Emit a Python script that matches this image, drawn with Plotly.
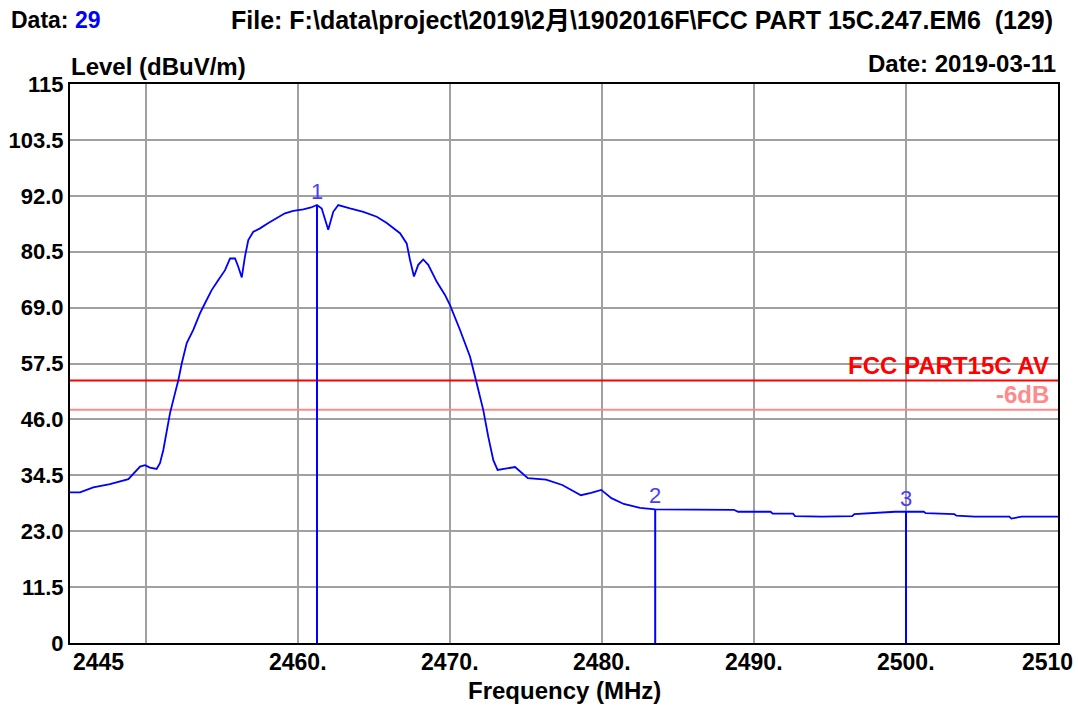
import plotly.graph_objects as go

# ---------------- data ----------------
freq = [2445.00, 2445.66, 2446.53, 2447.63, 2448.84, 2449.61, 2449.93, 2450.26, 2450.70, 2450.92,
        2451.14, 2451.36, 2451.58, 2451.91, 2452.13, 2452.35, 2452.68, 2453.11, 2453.55, 2453.88,
        2454.32, 2454.76, 2455.20, 2455.53, 2455.86, 2456.07, 2456.30, 2456.51, 2456.73, 2457.06,
        2457.50, 2458.05, 2458.60, 2459.14, 2459.69, 2460.35, 2460.86, 2461.25, 2461.56, 2461.99,
        2462.32, 2462.65, 2463.42, 2464.30, 2465.18, 2465.84, 2466.71, 2467.15, 2467.37, 2467.63,
        2467.91, 2468.24, 2468.57, 2469.13, 2469.67, 2470.00, 2470.66, 2471.32, 2471.76, 2472.19,
        2472.52, 2472.85, 2473.13, 2473.73, 2474.28, 2475.12, 2476.32, 2477.39, 2478.61, 2479.28,
        2479.95, 2480.62, 2481.43, 2482.50, 2483.50, 2488.68, 2488.95, 2491.09, 2491.23, 2492.57,
        2492.70, 2494.45, 2496.46, 2496.60, 2497.81, 2499.28, 2501.17, 2501.30, 2503.18, 2503.32,
        2504.52, 2506.80, 2506.93, 2507.61, 2510.00]
level = [31.0, 31.0, 32.0, 32.7, 33.7, 36.3, 36.6, 36.1, 35.8, 37.0,
         39.7, 43.8, 47.3, 51.4, 54.1, 57.5, 61.7, 64.4, 67.8, 69.9,
         72.6, 74.7, 76.7, 79.1, 79.1, 77.4, 75.2, 79.5, 82.9, 84.6,
         85.3, 86.4, 87.4, 88.4, 88.9, 89.2, 89.6, 90.1, 89.4, 85.0,
         88.7, 90.1, 89.4, 88.7, 87.7, 86.4, 84.3, 82.2, 78.8, 75.4,
         77.8, 78.9, 77.8, 74.3, 71.6, 69.5, 64.4, 58.9, 53.4, 47.9,
         42.4, 37.6, 35.6, 35.9, 36.2, 33.9, 33.6, 32.5, 30.4, 30.9,
         31.5, 29.8, 28.6, 27.8, 27.5, 27.4, 27.0, 27.0, 26.6, 26.6,
         26.1, 26.0, 26.1, 26.5, 26.7, 27.0, 27.0, 26.7, 26.5, 26.2,
         26.0, 26.0, 25.6, 26.0, 26.0]

marker_freq = [2461.25, 2483.50, 2500.00]
marker_level = [90.1, 27.5, 27.0]
marker_labels = ["1", "2", "3"]

limit_av = 54.0
limit_margin = 48.0
limit_av_label = "FCC PART15C AV"
limit_margin_label = "-6dB"

x_range = [2445, 2510]
x_grid = [2445, 2450, 2460, 2470, 2480, 2490, 2500, 2510]
x_tick_vals = [2445, 2460, 2470, 2480, 2490, 2500, 2510]
x_tick_text = ["2445", "2460.", "2470.", "2480.", "2490.", "2500.", "2510"]
y_range = [0, 115]
y_tick_vals = [0, 11.5, 23, 34.5, 46, 57.5, 69, 80.5, 92, 103.5, 115]
y_tick_text = ["0", "11.5", "23.0", "34.5", "46.0", "57.5", "69.0", "80.5", "92.0", "103.5", "115"]

data_no = "29"
file_text = "File: F:\\data\\project\\2019\\2月\\1902016F\\FCC PART 15C.247.EM6  (129)"
date_text = "Date: 2019-03-11"
y_title = "Level (dBuV/m)"
x_title = "Frequency (MHz)"

# ---------------- figure ----------------
FONT = "Liberation Sans, Arial, Noto Sans CJK SC, sans-serif"
W, H = 1078, 706
L, R, T, B = 70, 20, 84, 63
pw, ph = W - L - R, H - T - B


def px(xp):
    return (xp - L) / pw


def py(yp):
    return (H - B - yp) / ph


def bold(size, color="#000000"):
    return dict(family=FONT, size=size, color=color, weight="bold")


fig = go.Figure()

# limit lines
fig.add_trace(go.Scatter(x=x_range, y=[limit_av, limit_av], mode="lines",
                         line=dict(color="#ff0000", width=2), hoverinfo="skip"))
fig.add_trace(go.Scatter(x=x_range, y=[limit_margin, limit_margin], mode="lines",
                         line=dict(color="#ff8a8a", width=2), hoverinfo="skip"))

# marker vertical lines
for f, lv in zip(marker_freq, marker_level):
    fig.add_trace(go.Scatter(x=[f, f], y=[0, lv], mode="lines",
                             line=dict(color="#0000ff", width=2), hoverinfo="skip"))

# trace
fig.add_trace(go.Scatter(x=freq, y=level, mode="lines",
                         line=dict(color="#0000ff", width=1.8)))

annotations = []

# x tick labels
for v, t in zip(x_tick_vals, x_tick_text):
    if v == x_range[0]:
        anchor, xs = "left", 1
    elif v == x_range[1]:
        anchor, xs = "right", 17
    else:
        anchor, xs = "center", 0
    annotations.append(dict(x=v, xref="x", y=py(662), yref="paper", text=t,
                            showarrow=False, xanchor=anchor, yanchor="middle", xshift=xs,
                            font=bold(23)))

# marker labels
for f, lv, t in zip(marker_freq, marker_level, marker_labels):
    annotations.append(dict(x=f, xref="x", y=lv, yref="y", text=t, showarrow=False,
                            xanchor="center", yanchor="bottom", yshift=-1,
                            font=dict(family=FONT, size=22, color="#4a3cff")))

# limit labels
annotations.append(dict(x=px(1051), xref="paper", y=limit_av, yref="y", text=limit_av_label,
                        showarrow=False, xanchor="right", yanchor="bottom", yshift=0,
                        font=bold(24, "#ff0000")))
annotations.append(dict(x=px(1051), xref="paper", y=limit_margin, yref="y", text=limit_margin_label,
                        showarrow=False, xanchor="right", yanchor="bottom", yshift=0,
                        font=bold(24, "#ff8a8a")))

# header texts
annotations.append(dict(x=px(9), xref="paper", y=py(20), yref="paper",
                        text="Data: <span style='color:#0000ff'>" + data_no + "</span>",
                        showarrow=False, xanchor="left", yanchor="middle", font=bold(23)))
annotations.append(dict(x=px(642), xref="paper", y=py(20), yref="paper", text=file_text,
                        showarrow=False, xanchor="center", yanchor="middle", font=bold(25)))
annotations.append(dict(x=px(69), xref="paper", y=py(67), yref="paper", text=y_title,
                        showarrow=False, xanchor="left", yanchor="middle", font=bold(24)))
annotations.append(dict(x=px(1058), xref="paper", y=py(64), yref="paper", text=date_text,
                        showarrow=False, xanchor="right", yanchor="middle", font=bold(24)))
annotations.append(dict(x=0.5, xref="paper", y=py(691), yref="paper", text=x_title,
                        showarrow=False, xanchor="center", yanchor="middle", font=bold(24)))

fig.update_layout(
    width=W, height=H,
    margin=dict(l=L, r=R, t=T, b=B),
    paper_bgcolor="#ffffff", plot_bgcolor="#ffffff",
    showlegend=False,
    annotations=annotations,
    xaxis=dict(range=x_range, tickmode="array", tickvals=x_grid, showticklabels=False,
               showgrid=True, gridcolor="#a0a0a0", gridwidth=1.5, zeroline=False,
               showline=True, linecolor="#000000", linewidth=2, mirror=True, ticks=""),
    yaxis=dict(range=y_range, tickmode="array", tickvals=y_tick_vals, ticktext=y_tick_text,
               tickfont=bold(22), showgrid=True, gridcolor="#a0a0a0", gridwidth=1.5,
               zeroline=False, showline=True, linecolor="#000000", linewidth=2, mirror=True,
               ticks="", automargin=False),
)

fig.write_html("out.html", config={"displayModeBar": False},
               post_script="document.body.style.margin='0px';document.body.style.padding='0px';")
